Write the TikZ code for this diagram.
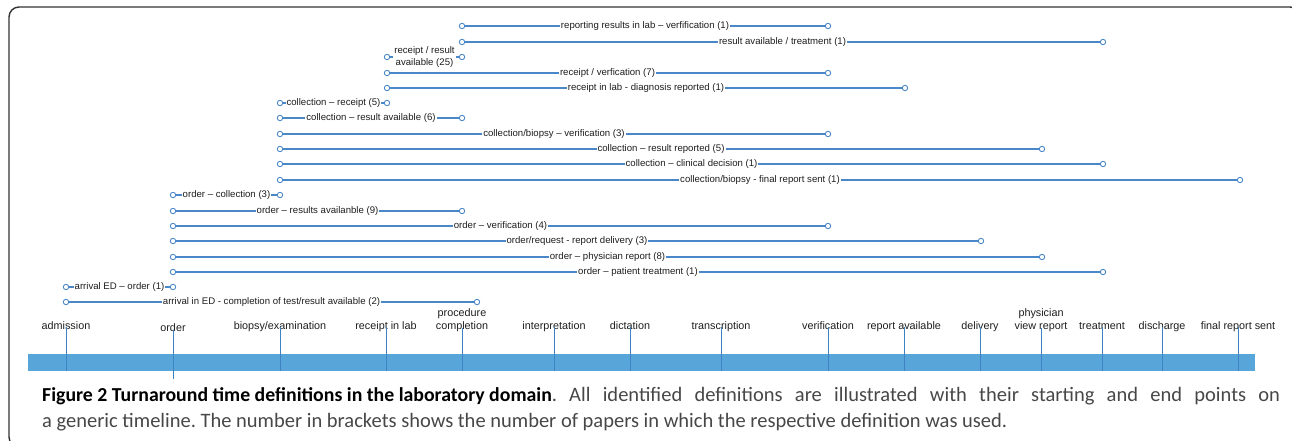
\documentclass[tikz,border=0pt]{standalone}
\usepackage{fontspec}
\setmainfont{Liberation Sans}
\newfontfamily\capfont{Carlito}
\definecolor{lineblue}{HTML}{4A87C8}
\definecolor{barblue}{HTML}{58A5DA}
\definecolor{tickblue}{HTML}{3F82C4}
\definecolor{txtdark}{HTML}{1E1E1E}
\definecolor{capgray}{HTML}{474747}
\definecolor{framegray}{HTML}{333333}
\newcommand\tatdef[5]{%
  \node[endpt] (#1a) at (#3,#2) {};
  \node[endpt] (#1b) at (#4,#2) {};
  \draw[defline] (#1a) -- node[deflbl]{#5} (#1b);}
\newcommand\tatev[6]{%
  \node[evlbl] (#1) at (#2,#3) {#4};
  \coordinate (#1t) at (#2,#5);
  \coordinate (#1b) at (#2,#6);
  \draw[tickline] (#1t) -- (#1b);}
\frenchspacing
\begin{document}
\begin{tikzpicture}[x=1pt,y=-1pt,
  defline/.style={draw=lineblue, line width=1.1pt},
  endpt/.style={circle, draw=lineblue, fill=white, line width=0.9pt, minimum size=5.4pt, inner sep=0pt},
  deflbl/.style={fill=white, inner sep=1pt, align=center, text=txtdark, font=\fontsize{9.6}{11.5}\selectfont},
  evlbl/.style={anchor=base, inner sep=0pt, align=center, text=txtdark, font=\fontsize{10.8}{13}\selectfont},
  tickline/.style={draw=tickblue, line width=0.9pt},
  frame/.style={draw=framegray, line width=1.4pt, rounded corners=10pt}]
\useasboundingbox (0,0) rectangle (1292,441);
\draw[frame] (9,7) rectangle (1300,447);
% timeline bar
\fill[barblue] (28,354) rectangle (1255,371);
% events
\tatev{adm}{66}{329}{admission}{327}{371}
\tatev{ord}{173}{331}{order}{330}{379}
\tatev{bio}{280}{329}{biopsy/examination}{327}{371}
\tatev{rec}{386}{329}{receipt in lab}{327}{371}
\tatev{pro}{462}{329}{procedure\\completion}{328}{371}
\tatev{int}{554}{329}{interpretation}{327}{371}
\tatev{dic}{630}{329}{dictation}{327}{371}
\tatev{tra}{721}{329}{transcription}{327}{371}
\tatev{ver}{828}{329}{verification}{327}{371}
\tatev{rep}{904}{329}{report available}{327}{371}
\tatev{del}{980}{329}{delivery}{327}{371}
\tatev{phy}{1041}{329}{physician\\view report}{328}{371}
\tatev{tre}{1102}{329}{treatment}{327}{371}
\tatev{dis}{1162}{329}{discharge}{327}{371}
\begin{scope}
\clip (1150,290) rectangle (1276,380);
\tatev{fin}{1238}{329}{final report sent}{327}{371}
\end{scope}
% definitions
\tatdef{d1}{26}{462}{828}{reporting results in lab -- verfification (1)}
\tatdef{d2}{42}{462}{1103}{result available / treatment (1)}
\tatdef{d3}{57}{387}{462}{receipt / result\\available (25)}
\tatdef{d4}{73}{387}{828}{receipt / verfication (7)}
\tatdef{d5}{88}{387}{905}{receipt in lab - diagnosis reported (1)}
\tatdef{d6}{103}{280}{387}{collection -- receipt (5)}
\tatdef{d7}{118}{280}{462}{collection -- result available (6)}
\tatdef{d8}{134}{280}{828}{collection/biopsy -- verification (3)}
\tatdef{d9}{149}{280}{1042}{collection -- result reported (5)}
\tatdef{d10}{164}{280}{1103}{collection -- clinical decision (1)}
\tatdef{d11}{180}{280}{1240}{collection/biopsy - final report sent (1)}
\tatdef{d12}{195}{173}{280}{order -- collection (3)}
\tatdef{d13}{211}{173}{462}{order -- results availanble (9)}
\tatdef{d14}{226}{173}{828}{order -- verification (4)}
\tatdef{d15}{241}{173}{981}{order/request - report delivery (3)}
\tatdef{d16}{257}{173}{1042}{order -- physician report (8)}
\tatdef{d17}{272}{173}{1103}{order -- patient treatment (1)}
\tatdef{d18}{287}{66}{173}{arrival ED -- order (1)}
\tatdef{d19}{302}{66}{477}{arrival in ED - completion of test/result available (2)}
% caption
\node[anchor=base west, inner sep=0pt, text width=1238pt, align=justify, text=capgray,
  font=\capfont\fontsize{20.5}{26}\selectfont\frenchspacing] (cap) at (42,401)
  {{\color{black}\fontsize{19.8}{26}\selectfont\bfseries\spaceskip=\fontdimen2\font plus 0pt minus 0pt\relax Figure 2 Turnaround time definitions in the laboratory domain}. All identified definitions are illustrated with their starting and end points on\linebreak a generic timeline. The number in brackets shows the number of papers in which the respective definition was used.};
\end{tikzpicture}
\end{document}
